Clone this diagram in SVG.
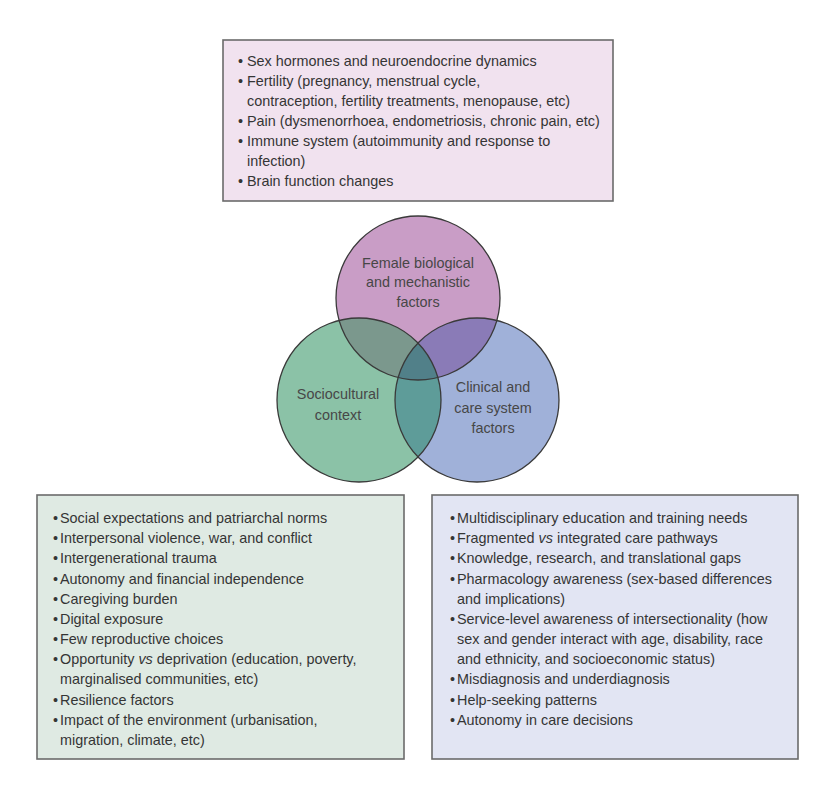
<svg xmlns="http://www.w3.org/2000/svg" width="838" height="796" viewBox="0 0 838 796">
<style>
.box{stroke:#6b6b6b;stroke-width:1.6}
.lst{font-family:"Liberation Sans",Arial,sans-serif;font-size:14.4px;fill:#353535}
.lbl{font-family:"Liberation Sans",Arial,sans-serif;font-size:14.4px;fill:#474747;text-anchor:middle}
.ring{fill:none;stroke:#3a3a3a;stroke-width:1.3}
</style>
<defs>
<clipPath id="cT"><circle cx="418" cy="298" r="82"/></clipPath>
<clipPath id="cL"><circle cx="359" cy="400" r="82"/></clipPath>
</defs>
<rect width="838" height="796" fill="#ffffff"/>

<g id="box-biological">
<rect class="box" x="223" y="40" width="390" height="161" fill="#f1e2ef"/>
<text class="lst" y="66"><tspan x="238">•</tspan><tspan x="247">Sex hormones and neuroendocrine dynamics</tspan></text>
<text class="lst" y="86"><tspan x="238">•</tspan><tspan x="247">Fertility (pregnancy, menstrual cycle,</tspan></text>
<text class="lst" x="247" y="106">contraception, fertility treatments, menopause, etc)</text>
<text class="lst" y="126"><tspan x="238">•</tspan><tspan x="247">Pain (dysmenorrhoea, endometriosis, chronic pain, etc)</tspan></text>
<text class="lst" y="146"><tspan x="238">•</tspan><tspan x="247">Immune system (autoimmunity and response to</tspan></text>
<text class="lst" x="247" y="166">infection)</text>
<text class="lst" y="186"><tspan x="238">•</tspan><tspan x="247">Brain function changes</tspan></text>
</g>

<g id="venn">
<g id="circle-biological"><circle cx="418" cy="298" r="82" fill="#c99dc6"/></g>
<g id="circle-sociocultural"><circle cx="359" cy="400" r="82" fill="#8bc2a7"/></g>
<g id="circle-clinical"><circle cx="477" cy="400" r="82" fill="#a0b1d9"/></g>
<g id="overlaps">
<circle cx="359" cy="400" r="82" fill="#7b988d" clip-path="url(#cT)"/>
<circle cx="477" cy="400" r="82" fill="#8a7bb7" clip-path="url(#cT)"/>
<circle cx="477" cy="400" r="82" fill="#5e9c99" clip-path="url(#cL)"/>
<g clip-path="url(#cT)"><circle cx="477" cy="400" r="82" fill="#518089" clip-path="url(#cL)"/></g>
</g>
<circle class="ring" cx="418" cy="298" r="82"/>
<circle class="ring" cx="359" cy="400" r="82"/>
<circle class="ring" cx="477" cy="400" r="82"/>
<text class="lbl" x="418" y="268">Female biological</text>
<text class="lbl" x="418" y="287">and mechanistic</text>
<text class="lbl" x="418" y="307">factors</text>
<text class="lbl" x="338" y="399">Sociocultural</text>
<text class="lbl" x="338" y="420">context</text>
<text class="lbl" x="493" y="392">Clinical and</text>
<text class="lbl" x="493" y="413">care system</text>
<text class="lbl" x="493" y="433">factors</text>
</g>

<g id="box-sociocultural">
<rect class="box" x="37" y="495" width="367" height="264" fill="#dfeae3"/>
<text class="lst" y="523"><tspan x="53">•</tspan><tspan x="60">Social expectations and patriarchal norms</tspan></text>
<text class="lst" y="543"><tspan x="53">•</tspan><tspan x="60">Interpersonal violence, war, and conflict</tspan></text>
<text class="lst" y="563"><tspan x="53">•</tspan><tspan x="60">Intergenerational trauma</tspan></text>
<text class="lst" y="583.5"><tspan x="53">•</tspan><tspan x="60">Autonomy and financial independence</tspan></text>
<text class="lst" y="604"><tspan x="53">•</tspan><tspan x="60">Caregiving burden</tspan></text>
<text class="lst" y="624"><tspan x="53">•</tspan><tspan x="60">Digital exposure</tspan></text>
<text class="lst" y="644"><tspan x="53">•</tspan><tspan x="60">Few reproductive choices</tspan></text>
<text class="lst" y="664"><tspan x="53">•</tspan><tspan x="60">Opportunity <tspan font-style="italic">vs</tspan> deprivation (education, poverty,</tspan></text>
<text class="lst" x="60" y="684">marginalised communities, etc)</text>
<text class="lst" y="704.5"><tspan x="53">•</tspan><tspan x="60">Resilience factors</tspan></text>
<text class="lst" y="725"><tspan x="53">•</tspan><tspan x="60">Impact of the environment (urbanisation,</tspan></text>
<text class="lst" x="60" y="745">migration, climate, etc)</text>
</g>

<g id="box-clinical">
<rect class="box" x="432" y="495" width="366" height="264" fill="#e2e5f3"/>
<text class="lst" y="523"><tspan x="450">•</tspan><tspan x="457">Multidisciplinary education and training needs</tspan></text>
<text class="lst" y="543"><tspan x="450">•</tspan><tspan x="457">Fragmented <tspan font-style="italic">vs</tspan> integrated care pathways</tspan></text>
<text class="lst" y="563"><tspan x="450">•</tspan><tspan x="457">Knowledge, research, and translational gaps</tspan></text>
<text class="lst" y="583.5"><tspan x="450">•</tspan><tspan x="457">Pharmacology awareness (sex-based differences</tspan></text>
<text class="lst" x="457" y="604">and implications)</text>
<text class="lst" y="624"><tspan x="450">•</tspan><tspan x="457">Service-level awareness of intersectionality (how</tspan></text>
<text class="lst" x="457" y="644">sex and gender interact with age, disability, race</text>
<text class="lst" x="457" y="664">and ethnicity, and socioeconomic status)</text>
<text class="lst" y="684"><tspan x="450">•</tspan><tspan x="457">Misdiagnosis and underdiagnosis</tspan></text>
<text class="lst" y="704.5"><tspan x="450">•</tspan><tspan x="457">Help-seeking patterns</tspan></text>
<text class="lst" y="725"><tspan x="450">•</tspan><tspan x="457">Autonomy in care decisions</tspan></text>
</g>
</svg>
